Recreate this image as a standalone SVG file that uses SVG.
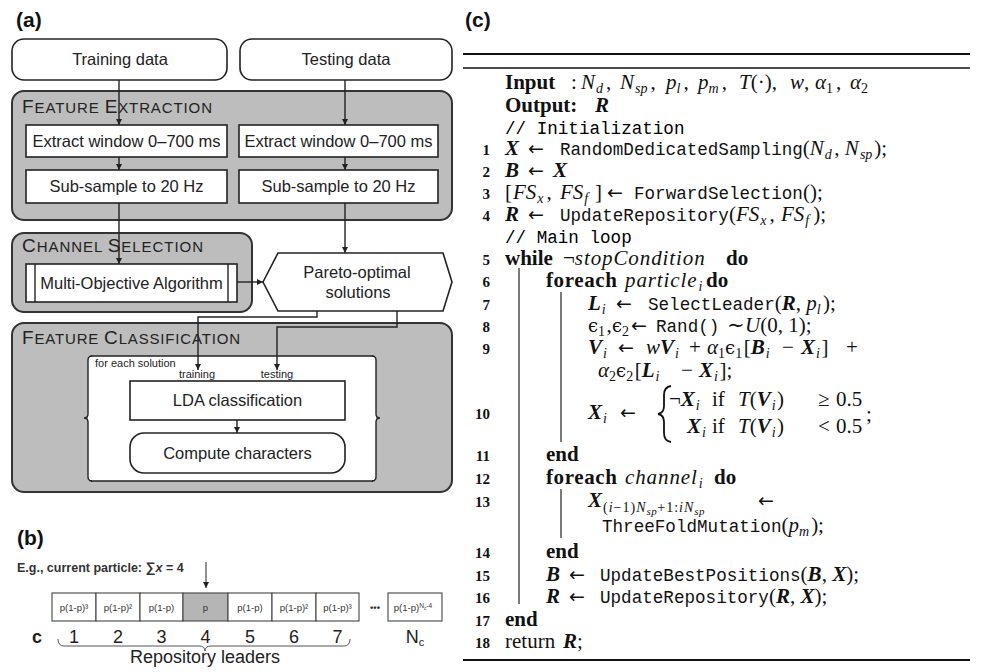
<svg xmlns="http://www.w3.org/2000/svg" width="992" height="672" viewBox="0 0 992 672">
<defs>
<marker id="ah" viewBox="0 0 10 10" refX="10" refY="5" markerWidth="6" markerHeight="6" markerUnits="userSpaceOnUse" orient="auto"><path d="M0,0 L10,5 L0,10 z" fill="#222"/></marker>
<style>
.pl{font-family:"Liberation Sans",Arial,sans-serif;font-weight:bold;font-size:21px;fill:#111}
.grp{fill:#bdbdbd;stroke:#333;stroke-width:2}
.box{fill:#fff;stroke:#222;stroke-width:1.6}
.lbl{font-family:"Liberation Sans",Arial,sans-serif;font-size:16.5px;fill:#222;text-anchor:middle}
.sc{font-family:"Liberation Sans",Arial,sans-serif;font-size:15px;fill:#222}
.sc .big{font-size:19px}
.sm{font-family:"Liberation Sans",Arial,sans-serif;font-size:11px;fill:#222}
.cn{fill:none;stroke:#222;stroke-width:1.4}
.cell{fill:#fff;stroke:#444;stroke-width:1.1}
.ct{font-family:"Liberation Sans",Arial,sans-serif;font-size:9.5px;fill:#333;text-anchor:middle}
.num{font-family:"Liberation Sans",Arial,sans-serif;font-size:18px;fill:#222;text-anchor:middle}
.c{font-family:"Liberation Serif","DejaVu Serif",serif;font-size:21px;fill:#111}
.i{font-style:italic}
.bi{font-style:italic;font-weight:bold}
.b{font-weight:bold}
.tt{font-family:"Liberation Mono","DejaVu Sans Mono",monospace;font-size:17.6px}
.s{font-size:14px}
.ss{font-size:11px}
.ar{font-family:"DejaVu Sans",sans-serif;font-size:19px}
.ep{font-family:"DejaVu Serif",serif;font-size:18px;font-style:normal}
.ln{font-family:"Liberation Serif","DejaVu Serif",serif;font-size:15px;font-weight:bold;fill:#111;text-anchor:end}
.bar{stroke:#222;stroke-width:1.2}
</style>
</defs>

<!-- panel labels -->
<text class="pl" x="16" y="27">(a)</text>
<text class="pl" x="17" y="545">(b)</text>
<text class="pl" x="465" y="27">(c)</text>

<!-- ===== Panel (a) ===== -->
<g id="training-data">
<rect class="box" x="12" y="39" width="215" height="41" rx="12"/>
<text class="lbl" x="120" y="65">Training data</text>
</g>
<g id="testing-data">
<rect class="box" x="240" y="39" width="212" height="41" rx="12"/>
<text class="lbl" x="346" y="65">Testing data</text>
</g>

<g id="feature-extraction">
<rect class="grp" x="12" y="91" width="440" height="129" rx="12"/>
<text class="sc" x="22" y="113" textLength="190" lengthAdjust="spacing"><tspan class="big">F</tspan>EATURE <tspan class="big">E</tspan>XTRACTION</text>
</g>
<g id="extract-left">
<rect class="box" x="26" y="125" width="201" height="32"/>
<text class="lbl" x="126.5" y="147">Extract window 0–700 ms</text>
</g>
<g id="extract-right">
<rect class="box" x="239" y="125" width="199" height="32"/>
<text class="lbl" x="338.5" y="147">Extract window 0–700 ms</text>
</g>
<g id="subsample-left">
<rect class="box" x="26" y="170" width="201" height="33"/>
<text class="lbl" x="126.5" y="192">Sub-sample to 20 Hz</text>
</g>
<g id="subsample-right">
<rect class="box" x="239" y="170" width="199" height="33"/>
<text class="lbl" x="338.5" y="192">Sub-sample to 20 Hz</text>
</g>

<g id="channel-selection">
<rect class="grp" x="12" y="233" width="240" height="79" rx="12"/>
<text class="sc" x="22" y="252" textLength="181" lengthAdjust="spacing"><tspan class="big">C</tspan>HANNEL <tspan class="big">S</tspan>ELECTION</text>
</g>
<g id="multi-objective">
<rect class="box" x="26" y="264" width="211" height="38"/>
<line x1="35" y1="264" x2="35" y2="302" stroke="#222" stroke-width="1.4"/>
<line x1="228" y1="264" x2="228" y2="302" stroke="#222" stroke-width="1.4"/>
<text class="lbl" x="131.5" y="289">Multi-Objective Algorithm</text>
</g>
<g id="pareto">
<polygon class="box" points="263,282 278,253 443,253 452,282 443,311 278,311"/>
<text class="lbl" x="357" y="278">Pareto-optimal</text>
<text class="lbl" x="358" y="298">solutions</text>
</g>

<g id="feature-classification">
<rect class="grp" x="12" y="323" width="440" height="169" rx="12"/>
<text class="sc" x="22" y="344" textLength="218" lengthAdjust="spacing"><tspan class="big">F</tspan>EATURE <tspan class="big">C</tspan>LASSIFICATION</text>
</g>
<g id="for-each-solution">
<rect x="88" y="356" width="288" height="125" fill="#fff"/>
<line x1="91" y1="356" x2="373" y2="356" stroke="#222" stroke-width="1.4"/>
<line x1="91" y1="481" x2="373" y2="481" stroke="#222" stroke-width="1.4"/>
<path d="M92 356 Q88 356 88 360 L88 414 Q88 418 84 418 Q88 418 88 422 L88 477 Q88 481 92 481" fill="none" stroke="#222" stroke-width="1.4"/>
<path d="M372 356 Q376 356 376 360 L376 414 Q376 418 380 418 Q376 418 376 422 L376 477 Q376 481 372 481" fill="none" stroke="#222" stroke-width="1.4"/>
<text class="sm" x="95" y="367">for each solution</text>
<text class="sm" x="197" y="378" text-anchor="middle">training</text>
<text class="sm" x="277" y="378" text-anchor="middle">testing</text>
</g>
<g id="lda">
<rect class="box" x="130" y="381" width="215" height="39"/>
<text class="lbl" x="237.5" y="406">LDA classification</text>
</g>
<g id="compute">
<rect class="box" x="130" y="433" width="215" height="40" rx="14"/>
<text class="lbl" x="237.5" y="459">Compute characters</text>
</g>

<g id="connectors-a">
<path class="cn" d="M119 80 V125" marker-end="url(#ah)"/>
<path class="cn" d="M345 80 V125" marker-end="url(#ah)"/>
<path class="cn" d="M119 157 V170" marker-end="url(#ah)"/>
<path class="cn" d="M345 157 V170" marker-end="url(#ah)"/>
<path class="cn" d="M119 203 V264" marker-end="url(#ah)"/>
<path class="cn" d="M345 203 V253" marker-end="url(#ah)"/>
<path class="cn" d="M237 282 H263" marker-end="url(#ah)"/>
<path class="cn" d="M317 311 V317 H198 V370" marker-end="url(#ah)"/>
<path class="cn" d="M397 311 V327 H277 V370" marker-end="url(#ah)"/>
<path class="cn" d="M237 420 V433" marker-end="url(#ah)"/>
</g>

<!-- ===== Panel (b) ===== -->
<g id="panel-b">
<text x="17" y="572" font-family="Liberation Sans, Arial, sans-serif" font-weight="bold" font-size="12.5" fill="#333">E.g., current particle: <tspan font-size="14">∑</tspan><tspan font-style="italic">x</tspan> = 4</text>
<path d="M206 562 V588" fill="none" stroke="#222" stroke-width="1" marker-end="url(#ah)"/>
<rect class="cell" x="52" y="593" width="44" height="28"/>
<rect class="cell" x="96" y="593" width="44" height="28"/>
<rect class="cell" x="140" y="593" width="43" height="28"/>
<rect class="cell" x="183" y="593" width="45" height="28" style="fill:#b5b5b5"/>
<rect class="cell" x="228" y="593" width="44" height="28"/>
<rect class="cell" x="272" y="593" width="44" height="28"/>
<rect class="cell" x="316" y="593" width="43" height="28"/>
<rect class="cell" x="388" y="593" width="54" height="28"/>
<text class="ct" x="74" y="611">p(1-p)³</text>
<text class="ct" x="118" y="611">p(1-p)²</text>
<text class="ct" x="161.5" y="611">p(1-p)</text>
<text class="ct" x="205.5" y="611">p</text>
<text class="ct" x="250" y="611">p(1-p)</text>
<text class="ct" x="294" y="611">p(1-p)²</text>
<text class="ct" x="337.5" y="611">p(1-p)³</text>
<text class="ct" x="375" y="611" font-weight="bold" font-size="10">•••</text>
<text class="ct" x="413" y="611">p(1-p)<tspan dy="-3" font-size="6.5">N</tspan><tspan dy="1.5" font-size="5">c</tspan><tspan dy="-1.5" font-size="6.5">-4</tspan></text>
<text x="32" y="643" font-family="Liberation Sans, Arial, sans-serif" font-weight="bold" font-size="18" fill="#222">c</text>
<text class="num" x="74" y="643">1</text>
<text class="num" x="118" y="643">2</text>
<text class="num" x="161.5" y="643">3</text>
<text class="num" x="205.5" y="643">4</text>
<text class="num" x="250" y="643">5</text>
<text class="num" x="294" y="643">6</text>
<text class="num" x="337.5" y="643">7</text>
<text class="num" x="415" y="643">N<tspan dy="3" font-size="11">c</tspan></text>
<path d="M58 639 Q58 646 64 646 L199 646 Q205 646 205 651 Q205 646 211 646 L344 646 Q350 646 350 639" fill="none" stroke="#555" stroke-width="1"/>
<text class="num" x="205" y="663" font-size="17">Repository leaders</text>
</g>

<!-- ===== Panel (c) ===== -->
<g id="panel-c">
<line x1="463" y1="54" x2="970" y2="54" stroke="#111" stroke-width="2.2"/>
<line x1="463" y1="68" x2="970" y2="68" stroke="#111" stroke-width="1.3"/>
<line x1="463" y1="660" x2="970" y2="660" stroke="#111" stroke-width="2.2"/>

<text class="c b" x="505" y="89">Input</text>
<text class="c" x="571" y="89">:</text>
<text class="c" y="89"><tspan x="581" class="i">N</tspan><tspan class="s i" dy="4" dx="1">d</tspan><tspan dy="-4" dx="3">,</tspan><tspan x="620" class="i">N</tspan><tspan class="s i" dy="4" dx="1">sp</tspan><tspan dy="-4" dx="3">,</tspan><tspan x="666" class="i">p</tspan><tspan class="s i" dy="4">l</tspan><tspan dy="-4" dx="3">,</tspan><tspan x="698" class="i">p</tspan><tspan class="s i" dy="4">m</tspan><tspan dy="-4" dx="3">,</tspan><tspan x="739" class="i">T</tspan><tspan>(·),</tspan><tspan x="790" class="i">w</tspan><tspan>,</tspan><tspan x="815" class="i">α</tspan><tspan class="s" dy="4">1</tspan><tspan dy="-4" dx="3">,</tspan><tspan x="850" class="i">α</tspan><tspan class="s" dy="4">2</tspan></text>

<text class="c b" x="505" y="112">Output:</text>
<text class="c bi" x="595" y="112">R</text>

<text class="tt" x="505" y="134">// Initialization</text>

<text class="ln" x="490" y="155">1</text>
<text class="c" y="155"><tspan x="505" class="bi">X</tspan><tspan x="528" class="ar">←</tspan><tspan x="560" class="tt">RandomDedicatedSampling</tspan><tspan>(</tspan><tspan class="i">N</tspan><tspan class="s i" dy="4" dx="1">d</tspan><tspan dy="-4" dx="2.5">, </tspan><tspan class="i">N</tspan><tspan class="s i" dy="4" dx="1">sp</tspan><tspan dy="-4" dx="2">);</tspan></text>

<text class="ln" x="490" y="177">2</text>
<text class="c" y="177"><tspan x="505" class="bi">B</tspan><tspan x="528" class="ar">←</tspan><tspan x="553" class="bi">X</tspan></text>

<text class="ln" x="490" y="199">3</text>
<text class="c" y="199"><tspan x="505">[</tspan><tspan x="513" class="i">FS</tspan><tspan class="s i" dy="4" dx="1">x</tspan><tspan dy="-4" dx="3">,</tspan><tspan x="560" class="i">FS</tspan><tspan class="s i" dy="4" dx="1">f</tspan><tspan dy="-4" x="595">]</tspan><tspan x="607" class="ar">←</tspan><tspan x="634" class="tt">ForwardSelection</tspan><tspan>();</tspan></text>

<text class="ln" x="490" y="221">4</text>
<text class="c" y="221"><tspan x="505" class="bi">R</tspan><tspan x="528" class="ar">←</tspan><tspan x="560" class="tt">UpdateRepository</tspan><tspan>(</tspan><tspan class="i">FS</tspan><tspan class="s i" dy="4" dx="1">x</tspan><tspan dy="-4" dx="3">,</tspan><tspan x="781" class="i">FS</tspan><tspan class="s i" dy="4" dx="1">f</tspan><tspan dy="-4" dx="4">);</tspan></text>

<text class="tt" x="505" y="243">// Main loop</text>

<text class="ln" x="490" y="265">5</text>
<text class="c" y="265"><tspan x="505" class="b">while</tspan><tspan x="563">¬</tspan><tspan class="i" letter-spacing="0.9">stopCondition</tspan><tspan x="726" class="b">do</tspan></text>

<text class="ln" x="490" y="287">6</text>
<text class="c" y="287"><tspan x="546" class="b" letter-spacing="0.6">foreach</tspan><tspan x="625" class="i" letter-spacing="0.9">particle</tspan><tspan class="s i" dy="4" dx="1">i</tspan><tspan dy="-4" x="706" class="b">do</tspan></text>

<text class="ln" x="490" y="310">7</text>
<text class="c" y="310"><tspan x="588" class="bi">L</tspan><tspan class="s i" dy="4" dx="1">i</tspan><tspan dy="-4" x="616" class="ar">←</tspan><tspan x="648" class="tt">SelectLeader</tspan><tspan>(</tspan><tspan class="bi">R</tspan><tspan>, </tspan><tspan class="i">p</tspan><tspan class="s i" dy="4">l</tspan><tspan dy="-4" dx="2.5">);</tspan></text>

<text class="ln" x="490" y="332">8</text>
<text class="c" y="332"><tspan x="588" class="ep">ϵ</tspan><tspan class="s" dy="4">1</tspan><tspan dy="-4" dx="1.5">,</tspan><tspan x="612" class="ep">ϵ</tspan><tspan class="s" dy="4">2</tspan><tspan dy="-4" x="631" class="ar">←</tspan><tspan x="656" class="tt">Rand()</tspan><tspan x="727">∼</tspan><tspan x="745" class="i">U</tspan><tspan>(0, 1);</tspan></text>

<text class="ln" x="490" y="354">9</text>
<text class="c" y="354"><tspan x="588" class="bi">V</tspan><tspan class="s i" dy="4" dx="1">i</tspan><tspan dy="-4" x="618" class="ar">←</tspan><tspan x="646" class="i">w</tspan><tspan class="bi">V</tspan><tspan class="s i" dy="4" dx="1">i</tspan><tspan dy="-4" x="689">+</tspan><tspan x="707" class="i">α</tspan><tspan class="s" dy="4">1</tspan><tspan dy="-4" class="ep">ϵ</tspan><tspan class="s" dy="4">1</tspan><tspan dy="-4" dx="1.5">[</tspan><tspan class="bi">B</tspan><tspan class="s i" dy="4" dx="1">i</tspan><tspan dy="-4" x="782">−</tspan><tspan x="801" class="bi">X</tspan><tspan class="s i" dy="4" dx="1">i</tspan><tspan dy="-4" dx="1.5">]</tspan><tspan x="846">+</tspan></text>
<text class="c" y="377"><tspan x="598" class="i">α</tspan><tspan class="s" dy="4">2</tspan><tspan dy="-4" class="ep">ϵ</tspan><tspan class="s" dy="4">2</tspan><tspan dy="-4" dx="1.5">[</tspan><tspan class="bi">L</tspan><tspan class="s i" dy="4" dx="1">i</tspan><tspan dy="-4" x="681">−</tspan><tspan x="699" class="bi">X</tspan><tspan class="s i" dy="4" dx="1">i</tspan><tspan dy="-4" dx="1.5">];</tspan></text>

<text class="ln" x="490" y="419">10</text>
<text class="c" y="419"><tspan x="588" class="bi">X</tspan><tspan class="s i" dy="4" dx="1">i</tspan><tspan dy="-4" x="620" class="ar">←</tspan></text>
<path d="M671 386 Q664 387 664 395 L664 406 Q664 413 658 414 Q664 415 664 422 L664 433 Q664 441 671 442" fill="none" stroke="#111" stroke-width="1.8"/>
<text class="c" y="406"><tspan x="669">¬</tspan><tspan class="bi">X</tspan><tspan class="s i" dy="4" dx="1">i</tspan><tspan dy="-4" x="712">if</tspan><tspan x="738" class="i">T</tspan><tspan>(</tspan><tspan class="bi">V</tspan><tspan class="s i" dy="4" dx="1">i</tspan><tspan dy="-4" dx="1.5">)</tspan><tspan x="818">≥</tspan><tspan x="836">0.5</tspan></text>
<text class="c" y="433"><tspan x="687" class="bi">X</tspan><tspan class="s i" dy="4" dx="1">i</tspan><tspan dy="-4" x="712">if</tspan><tspan x="738" class="i">T</tspan><tspan>(</tspan><tspan class="bi">V</tspan><tspan class="s i" dy="4" dx="1">i</tspan><tspan dy="-4" dx="1.5">)</tspan><tspan x="818">&lt;</tspan><tspan x="836">0.5</tspan></text>
<text class="c" x="866" y="421">;</text>

<text class="ln" x="490" y="461">11</text>
<text class="c b" x="546" y="461">end</text>

<text class="ln" x="490" y="484">12</text>
<text class="c" y="484"><tspan x="546" class="b" letter-spacing="0.6">foreach</tspan><tspan x="625" class="i" letter-spacing="0.9">channel</tspan><tspan class="s i" dy="4" dx="1">i</tspan><tspan dy="-4" x="714" class="b">do</tspan></text>

<text class="ln" x="490" y="507">13</text>
<text class="c" y="507"><tspan x="588" class="bi">X</tspan><tspan class="s" dy="5" dx="1" letter-spacing="1">(<tspan class="i">i</tspan>−1)<tspan class="i">N</tspan></tspan><tspan class="ss i" dy="3" letter-spacing="0.5">sp</tspan><tspan class="s" dy="-3" letter-spacing="1">+1:<tspan class="i">iN</tspan></tspan><tspan class="ss i" dy="3" letter-spacing="0.5">sp</tspan><tspan dy="-8" x="758" class="ar">←</tspan></text>
<text class="c" y="532"><tspan x="602" class="tt">ThreeFoldMutation</tspan><tspan>(</tspan><tspan class="i">p</tspan><tspan class="s i" dy="4">m</tspan><tspan dy="-4" dx="2">);</tspan></text>

<text class="ln" x="490" y="558">14</text>
<text class="c b" x="546" y="558">end</text>

<text class="ln" x="490" y="581">15</text>
<text class="c" y="581"><tspan x="546" class="bi">B</tspan><tspan x="569" class="ar">←</tspan><tspan x="600" class="tt">UpdateBestPositions</tspan><tspan>(</tspan><tspan class="bi">B</tspan><tspan>, </tspan><tspan class="bi">X</tspan><tspan>);</tspan></text>

<text class="ln" x="490" y="603">16</text>
<text class="c" y="603"><tspan x="546" class="bi">R</tspan><tspan x="569" class="ar">←</tspan><tspan x="600" class="tt">UpdateRepository</tspan><tspan>(</tspan><tspan class="bi">R</tspan><tspan>, </tspan><tspan class="bi">X</tspan><tspan>);</tspan></text>

<text class="ln" x="490" y="626">17</text>
<text class="c b" x="505" y="626">end</text>

<text class="ln" x="490" y="648">18</text>
<text class="c" y="648"><tspan x="505">return</tspan><tspan x="563" class="bi">R</tspan><tspan>;</tspan></text>

<line class="bar" x1="519" y1="268" x2="519" y2="604"/>
<line class="bar" x1="561" y1="292" x2="561" y2="442"/>
<line class="bar" x1="561" y1="489" x2="561" y2="538"/>
</g>
</svg>
